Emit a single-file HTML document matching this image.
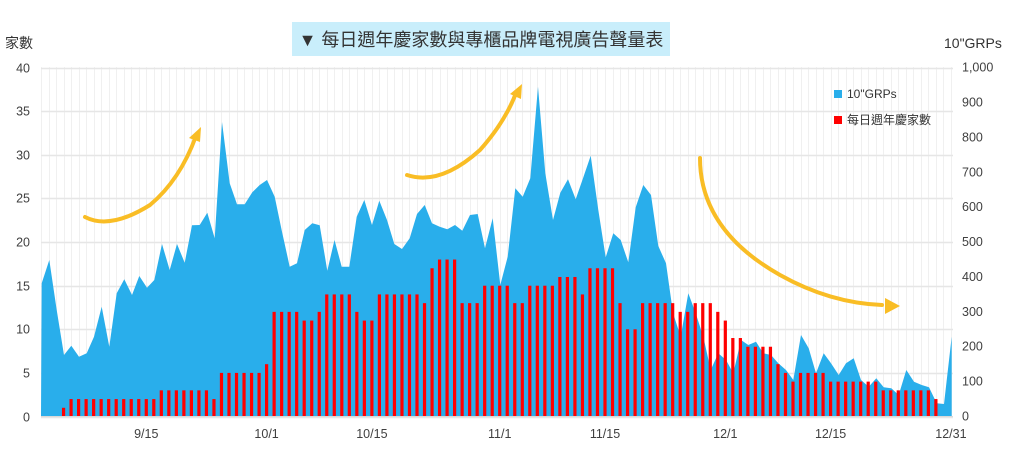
<!DOCTYPE html>
<html><head><meta charset="utf-8"><style>
body{margin:0;background:#fff;width:1009px;height:445px;overflow:hidden;font-family:"Liberation Sans","Noto Sans CJK TC",sans-serif}
</style></head><body>
<svg id="s" width="1009" height="445" xmlns="http://www.w3.org/2000/svg" font-family="Liberation Sans, Noto Sans CJK TC, sans-serif">
<rect width="1009" height="445" fill="#fff"/>
<g id="grid"></g>
<polygon fill="#29aeeb" points="41,416 41.7,283.3 49.3,260 56.7,310 64,355 71.3,345.7 79,356.7 86.7,353.3 94,336.7 101.7,306.7 109.3,346.7 116.7,293.3 124.3,279.3 132,295 139.3,276 147,287.7 154.3,280 162,244 169.7,270 177,244 184.7,262.7 192,225.3 199.7,225 207.3,212.7 214.7,238.3 222,122 229.7,183.3 237,204.3 244.7,204.3 252.3,192.3 259.7,185 267,180 274.7,196.7 282,231.7 289.7,266.7 297,263.3 304.7,230 312.3,223.3 319.7,225.3 327.3,270.7 334.5,240 341.7,266.7 349.3,266.7 356.7,216.7 364.3,200 372,225 379.3,200.7 387,220 394.3,244 402,249 409.7,238.3 417,214 424.7,205 432,223.3 439.7,226.7 447.3,229.3 455,225 462.3,230.7 470,215 477.7,214 485,248.3 492.7,218.3 500.3,285 507.7,256.7 515.3,188.3 522.7,196.7 530.3,178.3 538,86.7 545.3,173.3 553,220 560.3,192.7 568,179.3 575.7,199.3 583,178.3 590.7,155.7 598.3,210 605.7,257.3 613.3,233.3 620.7,240 628.3,262.3 635.7,207.3 643.3,185 651,195 658.3,246 666,263.3 673,313 680.7,336.7 688.3,293.3 695.7,313.3 703.3,336.7 710.7,370 718.3,353.3 726,360 733.3,373.3 741,340 748.3,345 756,341.7 763.3,353.3 771,355 778.3,363.3 786,370 793.3,380 801,335 808.7,348.3 816,373.3 823.7,353.3 831,363.3 838.7,375 846,363.3 853.7,358.3 861,380 868.7,386.7 876.3,378.3 883.7,387.3 891.3,388.3 898.7,395 906.3,370 914,381.7 921.7,385 929,387.3 936.7,403.3 944,404 951.7,336.7 951.7,416"/>
<g id="bars" fill="#ff0000"></g>
<line x1="41" y1="416.5" x2="953" y2="416.5" stroke="#d9d9d9"/>
<g id="ax" font-size="12.5" fill="#404040"></g>
<rect x="292" y="22" width="378" height="34" fill="#c9eefb"/>
<text x="481" y="46" font-size="18" fill="#333" text-anchor="middle">▼ 每日週年慶家數與專櫃品牌電視廣告聲量表</text>
<text x="5" y="48" font-size="14" fill="#333">家數</text>
<text x="944" y="48" font-size="14" fill="#333">10"GRPs</text>
<rect x="834" y="90" width="8" height="8" fill="#29aeeb"/>
<text x="847" y="98" font-size="12" fill="#333">10"GRPs</text>
<rect x="834" y="116" width="8" height="8" fill="#ff0000"/>
<text x="847" y="124" font-size="12" fill="#333">每日週年慶家數</text>
<g fill="none" stroke="#f9bd25" stroke-width="4" stroke-linecap="round">
<path d="M85,217 Q110,230 150,205 Q180,180 196,136"/>
<path d="M407,175 Q440,186 480,150 Q505,122 516,93"/>
<path d="M700,158 Q700,230 780,275 Q830,303 882,305"/>
</g>
<g fill="#f9bd25">
<polygon points="201,127 189,138 200,142"/>
<polygon points="522,84 510,94 521,99"/>
<polygon points="900,306 885,298 885,314"/>
</g>
</svg>
<script>
var ns="http://www.w3.org/2000/svg";
function el(t,a,p,txt){var e=document.createElementNS(ns,t);for(var k in a)e.setAttribute(k,a[k]);if(txt!==undefined)e.textContent=txt;document.getElementById(p).appendChild(e);return e;}
var x0=41,dx=7.52,y0=416.5,u=8.72;
for(var i=0;i<122;i++){var x=Math.round(x0+i*dx)+0.5;el('line',{x1:x,y1:67,x2:x,y2:416,stroke:'#f0f0f0','stroke-width':1},'grid');}
for(var k=0;k<=8;k++){var y=Math.round(y0-k*5*u)+0.5;el('line',{x1:41,y1:y,x2:953,y2:y,stroke:'#e6e6e6','stroke-width':1.5},'grid');
el('text',{x:30,y:y+4,'text-anchor':'end'},'ax',String(k*5));}
var rl=['0','100','200','300','400','500','600','700','800','900','1,000'];
for(var k=0;k<=10;k++){var y=y0-k*34.88;el('text',{x:962,y:y+4},'ax',rl[k]);}
var xl=[['9/15',14],['10/1',30],['10/15',44],['11/1',61],['11/15',75],['12/1',91],['12/15',105],['12/31',121]];
xl.forEach(function(a){el('text',{x:x0+a[1]*dx,y:438,'text-anchor':'middle'},'ax',a[0]);});
var runs=[[3,0],[1,1],[12,2],[7,3],[1,2],[6,5],[1,6],[4,12],[2,11],[1,12],[4,14],[1,12],[2,11],[6,14],[1,13],[1,17],[3,18],[3,13],[4,15],[2,13],[4,15],[3,16],[1,14],[4,17],[1,13],[2,10],[5,13],[2,12],[3,13],[1,12],[1,11],[2,9],[4,8],[1,6],[1,5],[1,4],[4,5],[7,4],[7,3],[1,2]];
var d=0;runs.forEach(function(r){for(var j=0;j<r[0];j++){if(r[1]>0){var x=x0+d*dx,h=r[1]*u;el('rect',{x:x-1.6,y:y0-h,width:3.2,height:h},'bars');}d++;}});
</script>
</body></html>
